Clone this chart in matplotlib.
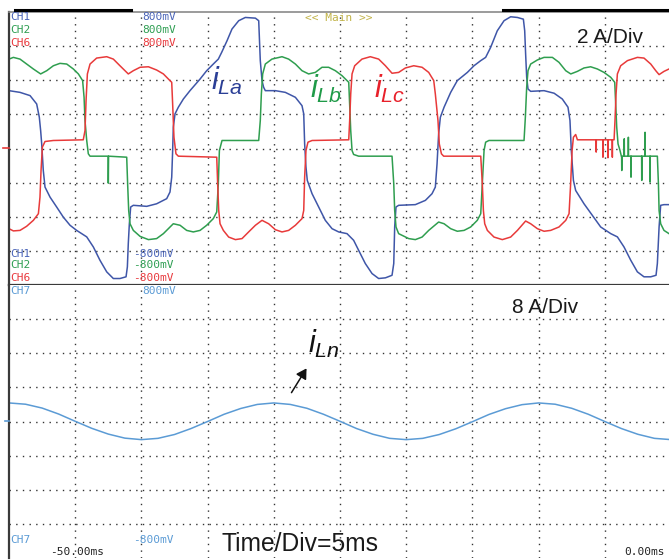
import numpy as np
import matplotlib
matplotlib.use('Agg')
import matplotlib.pyplot as plt
from matplotlib.lines import Line2D

W, H = 669, 560  # 出力画像のサイズ（px）

# 時間軸 [ms] と電流 [A] の読み取り値 (t, i)
ila = np.array([
    (-50.00, 3.39), (-49.17, 3.29), (-48.41, 3.10), (-47.91, 2.61), (-47.71, 1.83),
    (-47.61, 1.05), (-47.53, 0.27), (-47.41, -1.29), (-47.28, -2.26), (-46.90, -2.85),
    (-46.40, -3.43), (-45.90, -4.02), (-45.39, -4.50), (-44.89, -4.80), (-44.13, -5.18),
    (-43.63, -5.77), (-43.13, -6.55), (-42.62, -7.23), (-42.12, -7.62), (-41.62, -7.62),
    (-41.16, -7.52), (-41.06, -6.94), (-40.99, -5.57), (-40.91, -4.41), (-40.81, -3.43),
    (-40.61, -3.33), (-39.60, -3.39), (-38.85, -3.24), (-38.09, -2.94), (-37.84, -2.55),
    (-37.71, -1.68), (-37.64, -0.12), (-37.59, 1.25), (-37.46, 2.03), (-37.21, 2.42),
    (-36.83, 2.90), (-36.33, 3.39), (-35.57, 4.07), (-35.07, 4.56), (-34.57, 4.95),
    (-34.19, 5.24), (-33.94, 5.63), (-33.53, 6.32), (-33.16, 7.00), (-32.65, 7.49),
    (-32.15, 7.68), (-31.39, 7.64), (-31.14, 7.49), (-31.07, 6.12), (-31.02, 5.15),
    (-30.89, 3.98), (-30.77, 3.59), (-30.64, 3.39), (-29.88, 3.39), (-29.13, 3.29),
    (-28.37, 3.00), (-27.87, 2.51), (-27.74, 2.03), (-27.67, 0.27), (-27.57, -1.09),
    (-27.47, -1.87), (-27.11, -2.65), (-26.61, -3.43), (-26.11, -4.21), (-25.60, -4.70),
    (-25.10, -4.89), (-24.47, -4.99), (-23.97, -5.38), (-23.59, -5.97), (-23.09, -6.74),
    (-22.58, -7.33), (-22.08, -7.62), (-21.57, -7.58), (-21.07, -7.43), (-20.94, -6.74),
    (-20.87, -4.60), (-20.77, -3.43), (-20.57, -3.33), (-19.31, -3.29), (-18.55, -3.04),
    (-18.05, -2.65), (-17.80, -2.26), (-17.67, -0.90), (-17.55, 0.86), (-17.42, 1.83),
    (-17.14, 2.42), (-16.64, 3.29), (-16.14, 3.98), (-15.38, 4.46), (-14.88, 4.85),
    (-14.37, 5.15), (-14.00, 5.34), (-13.62, 5.93), (-13.12, 6.90), (-12.61, 7.49),
    (-12.11, 7.72), (-11.60, 7.68), (-11.15, 7.58), (-11.05, 6.90), (-10.98, 5.54),
    (-10.90, 4.17), (-10.80, 3.49), (-10.60, 3.35), (-9.59, 3.39), (-8.83, 3.24),
    (-8.21, 2.90), (-7.78, 2.42), (-7.63, 1.64), (-7.53, -0.12), (-7.37, -1.87),
    (-7.20, -2.46), (-6.57, -3.24), (-5.94, -3.92), (-5.31, -4.60), (-4.55, -4.99),
    (-4.05, -5.18), (-3.55, -5.77), (-3.04, -6.55), (-2.54, -7.23), (-2.04, -7.52),
    (-1.53, -7.52), (-1.13, -7.43), (-1.03, -6.74), (-0.90, -4.60), (-0.78, -3.33),
    (-0.53, -3.29), (-0.15, -3.29),
])

ilb = np.array([
    (-50.00, 5.24), (-49.67, 5.34), (-49.17, 5.24), (-48.67, 4.95), (-48.16, 4.66),
    (-47.61, 4.37), (-47.15, 4.56), (-46.65, 4.85), (-46.15, 4.99), (-45.64, 4.95),
    (-45.14, 4.66), (-44.76, 4.37), (-44.44, 3.98), (-44.33, 3.00), (-44.26, 1.64),
    (-44.13, 0.47), (-44.01, -0.31), (-43.88, -0.45), (-42.51, -0.45), (-42.50, -2.03),
    (-42.48, -0.45), (-41.11, -0.51), (-41.04, -2.07), (-40.96, -3.63), (-40.86, -4.41),
    (-40.61, -4.80), (-40.10, -5.15), (-39.47, -5.34), (-38.85, -5.28), (-38.34, -4.99),
    (-37.96, -4.70), (-37.59, -4.41), (-37.08, -4.50), (-36.58, -4.80), (-36.08, -4.89),
    (-35.57, -4.80), (-35.07, -4.50), (-34.57, -4.11), (-34.31, -3.72), (-34.19, -2.07),
    (-34.11, -0.12), (-33.94, 0.37), (-33.91, 0.47), (-31.14, 0.47), (-31.02, 1.64),
    (-30.94, 3.20), (-30.84, 4.37), (-30.64, 4.95), (-30.14, 5.24), (-29.38, 5.38),
    (-28.88, 5.24), (-28.37, 4.95), (-27.87, 4.56), (-27.37, 4.37), (-26.86, 4.46),
    (-26.36, 4.76), (-25.86, 4.76), (-25.35, 4.56), (-24.85, 4.27), (-24.34, 3.88),
    (-24.27, 2.61), (-24.19, 1.05), (-24.09, -0.12), (-23.97, -0.35), (-23.59, -0.45),
    (-21.07, -0.45), (-20.94, -2.07), (-20.87, -3.63), (-20.77, -4.60), (-20.57, -4.99),
    (-19.81, -5.28), (-19.31, -5.34), (-18.80, -5.19), (-18.30, -4.80), (-17.55, -4.31),
    (-17.14, -4.41), (-16.64, -4.70), (-16.14, -4.85), (-15.63, -4.80), (-15.13, -4.60),
    (-14.63, -4.21), (-14.37, -3.82), (-14.25, -2.07), (-14.12, -0.12), (-14.00, 0.37),
    (-13.75, 0.47), (-11.10, 0.47), (-11.00, 1.83), (-10.90, 3.59), (-10.80, 4.56),
    (-10.60, 4.95), (-10.09, 5.19), (-9.59, 5.34), (-8.96, 5.34), (-8.46, 5.05),
    (-7.95, 4.56), (-7.57, 4.37), (-7.07, 4.52), (-6.57, 4.72), (-6.07, 4.79),
    (-5.56, 4.66), (-5.06, 4.46), (-4.55, 4.17), (-4.25, 3.88), (-4.18, 2.61),
    (-4.10, 1.25), (-4.00, 0.27), (-3.85, -0.12), (-3.75, -0.45),
    (-3.73, -0.45), (-3.72, -1.29), (-3.71, -0.45), (-3.54, -0.45), (-3.53, 0.57),
    (-3.52, -0.45), (-3.23, -0.45), (-3.22, 0.66), (-3.21, -0.45), (-3.03, -0.45),
    (-3.02, -1.68), (-3.01, -0.45), (-2.22, -0.45), (-2.21, -1.87), (-2.20, -0.45),
    (-1.97, -0.45), (-1.96, 0.95), (-1.95, -0.45), (-1.59, -0.45), (-1.58, -1.97),
    (-1.57, -0.45), (-1.03, -0.45), (-0.95, -2.07), (-0.90, -3.63), (-0.78, -4.41),
    (-0.53, -4.80), (-0.15, -4.99),
])

ilc = np.array([
    (-50.00, -4.70), (-49.67, -4.83), (-49.17, -4.80), (-48.67, -4.56), (-48.16, -4.21),
    (-47.78, -3.82), (-47.66, -2.85), (-47.58, -1.29), (-47.48, 0.08), (-47.28, 0.41),
    (-46.65, 0.47), (-44.39, 0.51), (-44.26, 1.05), (-44.18, 2.81), (-44.08, 4.37),
    (-43.88, 4.95), (-43.38, 5.30), (-42.62, 5.38), (-42.12, 5.24), (-41.62, 4.85),
    (-40.99, 4.37), (-40.61, 4.56), (-40.10, 4.76), (-39.47, 4.79), (-38.85, 4.60),
    (-38.34, 4.37), (-37.96, 4.07), (-37.71, 3.88), (-37.64, 2.61), (-37.54, 0.66),
    (-37.39, -0.31), (-37.21, -0.45), (-34.31, -0.51), (-34.24, -2.07), (-34.16, -3.63),
    (-34.06, -4.41), (-33.81, -4.80), (-33.41, -5.19), (-32.90, -5.34), (-32.40, -5.28),
    (-31.90, -4.89), (-31.39, -4.50), (-30.89, -4.21), (-30.39, -4.41), (-29.88, -4.76),
    (-29.38, -4.89), (-28.88, -4.80), (-28.37, -4.50), (-27.87, -4.11), (-27.74, -3.63),
    (-27.67, -1.68), (-27.57, -0.12), (-27.42, 0.37), (-27.11, 0.47), (-24.34, 0.51),
    (-24.27, 1.64), (-24.19, 3.20), (-24.09, 4.37), (-23.89, 4.85), (-23.34, 5.24),
    (-22.71, 5.38), (-22.08, 5.24), (-21.57, 4.85), (-21.07, 4.41), (-20.57, 4.46),
    (-20.06, 4.72), (-19.43, 4.85), (-18.80, 4.76), (-18.30, 4.46), (-17.92, 3.98),
    (-17.80, 3.20), (-17.60, 1.64), (-17.50, 0.27), (-17.34, -0.31), (-17.17, -0.45),
    (-14.37, -0.45), (-14.25, -2.07), (-14.17, -3.63), (-14.07, -4.41), (-13.87, -4.80),
    (-13.37, -5.19), (-12.74, -5.34), (-12.11, -5.19), (-11.60, -4.80), (-10.98, -4.25),
    (-10.60, -4.41), (-10.09, -4.70), (-9.59, -4.85), (-9.09, -4.80), (-8.46, -4.60),
    (-7.95, -4.21), (-7.70, -3.82), (-7.58, -2.07), (-7.47, -0.12), (-7.37, 0.66),
    (-7.20, 0.82), (-7.07, 0.51),
    (-5.66, 0.51), (-5.65, -0.21), (-5.64, 0.51), (-5.15, 0.51), (-5.14, -0.51),
    (-5.13, 0.51), (-4.77, 0.51), (-4.76, -0.54), (-4.75, 0.51), (-4.44, 0.51),
    (-4.43, -0.51), (-4.42, 0.51),
    (-4.30, 0.51), (-4.23, 1.64), (-4.15, 3.20), (-4.05, 4.37), (-3.80, 4.85),
    (-3.29, 5.15), (-2.54, 5.34), (-2.04, 5.30), (-1.53, 4.95), (-1.15, 4.56),
    (-0.90, 4.33), (-0.53, 4.52), (-0.15, 4.66),
])

iln = np.array([
    (-50.00, 4.35), (-48.75, 4.05), (-47.50, 3.15), (-46.25, 1.75), (-45.00, 0.05),
    (-43.75, -1.60), (-42.50, -2.95), (-41.25, -3.90), (-40.00, -4.25), (-38.75, -3.95),
    (-37.50, -3.05), (-36.25, -1.65), (-35.00, 0.00), (-33.75, 1.70), (-32.50, 3.05),
    (-31.25, 4.00), (-30.00, 4.35), (-28.75, 4.00), (-27.50, 3.10), (-26.25, 1.70),
    (-25.00, 0.05), (-23.75, -1.65), (-22.50, -3.00), (-21.25, -3.95), (-20.00, -4.25),
    (-18.75, -3.95), (-17.50, -3.05), (-16.25, -1.70), (-15.00, -0.05), (-13.75, 1.65),
    (-12.50, 3.00), (-11.25, 3.95), (-10.00, 4.35), (-8.75, 4.05), (-7.50, 3.10),
    (-6.25, 1.70), (-5.00, 0.00), (-3.75, -1.65), (-2.50, -3.00), (-1.25, -3.95),
    (0.00, -4.25),
])

time_div = 5.0      # ms/div
top_scale = 2.0     # A/div
bottom_scale = 8.0  # A/div

C_A, C_B, C_C, C_N = '#3f56a8', '#2f9e4f', '#e83a3a', '#5b9bd5'
MONO = 'DejaVu Sans Mono'
SANS = 'Liberation Sans'

plt.rcParams['mathtext.fontset'] = 'custom'
plt.rcParams['mathtext.it'] = 'Liberation Sans:italic'
plt.rcParams['mathtext.rm'] = 'Liberation Sans'


def fx(x):
    return x / W


def fy(y):
    return 1 - y / H


def scope_axes(fig, top, bottom, scale):
    ax = fig.add_axes([fx(9), fy(bottom), fx(W - 9), (bottom - top) / H])
    ax.set_xlim(-10 * time_div, -10 * time_div + (W - 9) / 66.2 * time_div)
    ax.set_ylim(-4 * scale, 4 * scale)
    ax.set_xticks(np.arange(-9, 0) * time_div)
    ax.set_yticks(np.arange(-3, 4) * scale)
    ax.grid(True, color='#333333', linestyle=(0, (1, 3.8)), linewidth=1.0)
    ax.set_axisbelow(True)
    ax.tick_params(length=0, labelbottom=False, labelleft=False)
    for s in ax.spines.values():
        s.set_visible(False)
    ax.spines['left'].set_visible(True)
    ax.spines['left'].set_color('#3a3a3a')
    ax.spines['left'].set_linewidth(1.6)
    return ax


def label(fig, x, y, s, color, size=8, family=MONO, **kw):
    fig.text(fx(x), fy(y), s, color=color, fontsize=size, family=family,
             va=kw.pop('va', 'center'), ha=kw.pop('ha', 'left'), **kw)


def main():
    fig = plt.figure(figsize=(W / 100, H / 100), dpi=100)

    ax1 = scope_axes(fig, 12, 285, top_scale)
    ax2 = scope_axes(fig, 285, 558, bottom_scale)
    ax1.spines['top'].set_visible(True)
    ax1.spines['top'].set_color('#8a8a8a')
    ax1.spines['top'].set_linewidth(1.2)
    ax1.spines['bottom'].set_visible(True)
    ax1.spines['bottom'].set_color('#3a3a3a')
    ax1.spines['bottom'].set_linewidth(1.6)

    # 三相負荷電流
    for d, c in [(ila, C_A), (ilb, C_B), (ilc, C_C)]:
        ax1.plot(d[:, 0], d[:, 1], color=c, lw=1.1)
    # 中性線電流
    ax2.plot(iln[:, 0], iln[:, 1], color=C_N, lw=1.1)

    # 画面上部の黒い帯
    fig.add_artist(Line2D([fx(15), fx(131)], [fy(10), fy(10)], color='black', lw=2.2))
    fig.add_artist(Line2D([fx(503), fx(669)], [fy(10), fy(10)], color='black', lw=2.2))
    # ゼロ位置マーカー
    fig.add_artist(Line2D([fx(3), fx(9)], [fy(148), fy(148)], color=C_C, lw=1.2))
    fig.add_artist(Line2D([fx(5), fx(9)], [fy(421), fy(421)], color=C_N, lw=1.2))

    # チャンネル表示
    for y, name, c in [(17, 'CH1', '#4a64b8'), (30, 'CH2', '#2e9e52'), (43.5, 'CH6', '#e8393d')]:
        label(fig, 10, y, name, c)
        label(fig, 142, y, '800mV', c)
    for y, name, c in [(253.7, 'CH1', '#4a64b8'), (265.5, 'CH2', '#2e9e52'), (278, 'CH6', '#e8393d')]:
        label(fig, 10, y, name, c)
        label(fig, 133, y, '-800mV', c)
    label(fig, 10, 291, 'CH7', C_N)
    label(fig, 142, 291, '800mV', C_N)
    label(fig, 10, 540.3, 'CH7', C_N)
    label(fig, 133, 540.3, '-800mV', C_N)
    label(fig, 50, 551.7, '-50.00ms', '#222222')
    label(fig, 624, 551.7, '0.00ms', '#222222')
    label(fig, 305, 18.3, '<< Main >>', '#c2b44a')

    label(fig, 577, 43, '2 A/Div', '#1a1a1a', size=15, family=SANS, va='baseline')
    label(fig, 512, 313, '8 A/Div', '#1a1a1a', size=15, family=SANS, va='baseline')
    label(fig, 222, 551, 'Time/Div=5ms', '#1a1a1a', size=17.7, family=SANS, va='baseline')

    # 波形名
    label(fig, 211, 90, r'$i_{La}$', '#2b3f96', size=22, family=SANS, va='baseline')
    label(fig, 310, 98, r'$i_{Lb}$', '#1f9a48', size=22, family=SANS, va='baseline')
    label(fig, 374, 98, r'$i_{Lc}$', '#e8202a', size=22, family=SANS, va='baseline')
    label(fig, 308, 353, r'$i_{Ln}$', '#111111', size=22, family=SANS, va='baseline')
    fig.add_artist(plt.matplotlib.patches.FancyArrowPatch(
        (fx(290), fy(395)), (fx(308), fy(366)), transform=fig.transFigure,
        arrowstyle='-|>,head_length=6,head_width=3.5', color='#111111', lw=1.1))

    fig.savefig('out.png', dpi=100)


if __name__ == '__main__':
    main()
